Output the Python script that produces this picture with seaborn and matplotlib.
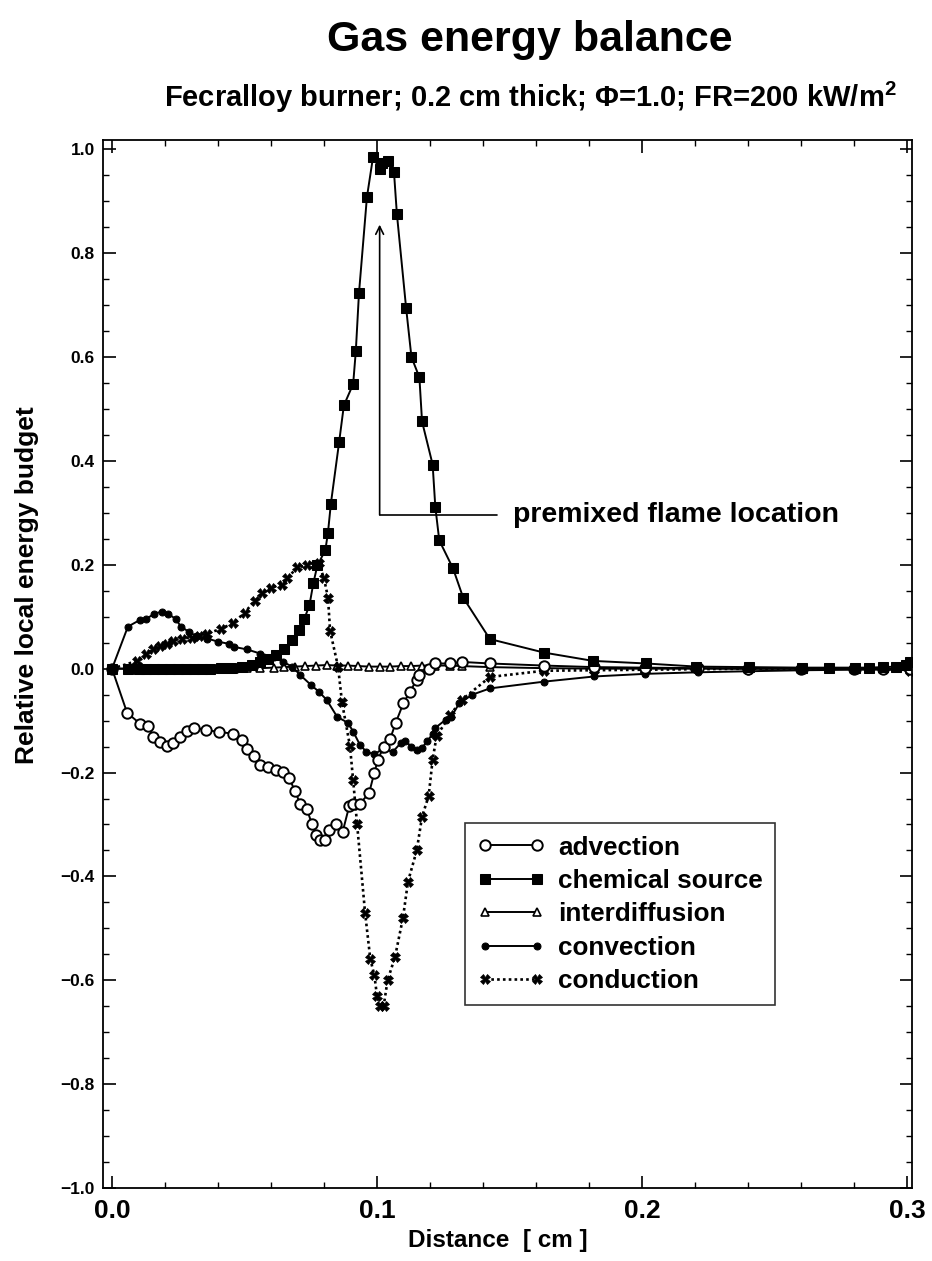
import numpy as np
import pandas as pd
import matplotlib
matplotlib.use("Agg")
import matplotlib.pyplot as plt
import seaborn as sns
from matplotlib.ticker import MultipleLocator

# ---------------- data ----------------
chem_x = [0.0, 0.006, 0.010, 0.013, 0.016, 0.019, 0.022, 0.025, 0.028, 0.031, 0.034, 0.037,
          0.041, 0.045, 0.049, 0.053, 0.056, 0.059, 0.062, 0.065, 0.068, 0.0705, 0.0725,
          0.0745, 0.076, 0.0775, 0.0805, 0.0815, 0.0826, 0.0857, 0.0875, 0.091, 0.092,
          0.0932, 0.0962, 0.0985, 0.101, 0.102, 0.104, 0.1064, 0.1075, 0.111, 0.113, 0.116,
          0.117, 0.121, 0.122, 0.1235, 0.1287, 0.1325, 0.1426, 0.163, 0.1815, 0.2015,
          0.2205, 0.2405, 0.2605, 0.2705, 0.2805, 0.2855, 0.291, 0.296, 0.2995, 0.301]
chem_y = [0.0, 0.0, 0.0, 0.0, 0.0, 0.0, 0.0, 0.0, 0.0, 0.0, 0.0, 0.0,
          0.001, 0.002, 0.004, 0.008, 0.012, 0.018, 0.026, 0.038, 0.055, 0.075, 0.095,
          0.122, 0.165, 0.199, 0.228, 0.262, 0.318, 0.436, 0.507, 0.548, 0.611,
          0.723, 0.908, 0.985, 0.962, 0.974, 0.978, 0.957, 0.876, 0.694, 0.600, 0.561,
          0.476, 0.393, 0.312, 0.247, 0.193, 0.137, 0.057, 0.031, 0.015, 0.010,
          0.004, 0.003, 0.002, 0.002, 0.002, 0.002, 0.003, 0.004, 0.008, 0.012]

adv_x = [0.0, 0.0057, 0.0106, 0.0136, 0.0155, 0.018, 0.0208, 0.023, 0.0257, 0.0283, 0.031,
         0.0355, 0.0404, 0.0457, 0.049, 0.051, 0.0536, 0.056, 0.059, 0.062, 0.0645, 0.0668,
         0.069, 0.071, 0.0735, 0.0755, 0.077, 0.0785, 0.0805, 0.082, 0.0845, 0.087, 0.0895,
         0.091, 0.0935, 0.097, 0.099, 0.1004, 0.1025, 0.105, 0.107, 0.110, 0.1125, 0.115,
         0.116, 0.1195, 0.122, 0.1275, 0.132, 0.1426, 0.163, 0.182, 0.201, 0.221, 0.24,
         0.26, 0.28, 0.291, 0.301]
adv_y = [0.0, -0.085, -0.106, -0.110, -0.131, -0.141, -0.149, -0.143, -0.131, -0.120, -0.114,
         -0.118, -0.122, -0.125, -0.137, -0.154, -0.168, -0.185, -0.190, -0.195, -0.199, -0.210,
         -0.235, -0.260, -0.270, -0.300, -0.320, -0.330, -0.330, -0.310, -0.300, -0.315, -0.265,
         -0.260, -0.260, -0.240, -0.200, -0.175, -0.150, -0.135, -0.105, -0.066, -0.044, -0.021,
         -0.012, 0.0, 0.010, 0.010, 0.013, 0.010, 0.006, 0.003, 0.002, 0.001, 0.0,
         0.0, 0.0, 0.0, 0.0]

idf_x = [0.0, 0.006, 0.011, 0.016, 0.021, 0.026, 0.031, 0.036, 0.041, 0.046, 0.051, 0.056,
         0.061, 0.065, 0.069, 0.073, 0.077, 0.081, 0.085, 0.089, 0.093, 0.097, 0.101, 0.105,
         0.109, 0.113, 0.117, 0.122, 0.1275, 0.132, 0.1426, 0.163, 0.182, 0.201, 0.221,
         0.24, 0.26, 0.28, 0.291, 0.301]
idf_y = [0.0, 0.0, 0.0, 0.0, 0.0, 0.0, 0.0, 0.0, 0.0, 0.0, 0.001, 0.001,
         0.002, 0.003, 0.004, 0.005, 0.006, 0.007, 0.006, 0.006, 0.005, 0.004, 0.004, 0.004,
         0.005, 0.005, 0.006, 0.006, 0.006, 0.005, 0.003, 0.001, 0.0, 0.0, 0.0,
         0.0, 0.0, 0.0, 0.0, 0.0]

conv_x = [0.0, 0.006, 0.0106, 0.013, 0.016, 0.019, 0.021, 0.024, 0.026, 0.029, 0.032, 0.036,
          0.040, 0.044, 0.046, 0.051, 0.056, 0.061, 0.0645, 0.068, 0.071, 0.075, 0.078,
          0.081, 0.085, 0.089, 0.091, 0.0936, 0.096, 0.099, 0.102, 0.106, 0.109, 0.1106,
          0.113, 0.115, 0.117, 0.119, 0.121, 0.122, 0.126, 0.128, 0.131, 0.136, 0.1426,
          0.163, 0.182, 0.201, 0.221, 0.240, 0.261, 0.281, 0.291, 0.301]
conv_y = [0.0, 0.081, 0.094, 0.096, 0.106, 0.110, 0.106, 0.096, 0.081, 0.071, 0.062, 0.058,
          0.052, 0.048, 0.042, 0.037, 0.029, 0.023, 0.013, 0.004, -0.012, -0.031, -0.044,
          -0.060, -0.093, -0.104, -0.121, -0.147, -0.160, -0.165, -0.155, -0.160, -0.143, -0.139,
          -0.150, -0.156, -0.152, -0.140, -0.125, -0.114, -0.098, -0.093, -0.067, -0.050, -0.038,
          -0.025, -0.015, -0.010, -0.007, -0.005, -0.003, -0.002, -0.002, -0.003]

cond_x = [0.0, 0.0095, 0.013, 0.0155, 0.018, 0.0208, 0.023, 0.0264, 0.030, 0.033, 0.036,
          0.041, 0.0457, 0.050, 0.054, 0.0566, 0.060, 0.064, 0.066, 0.070, 0.0736, 0.0766,
          0.078, 0.080, 0.0815, 0.0823, 0.0853, 0.0868, 0.0898, 0.091, 0.0925, 0.0955,
          0.0975, 0.099, 0.100, 0.101, 0.1025, 0.104, 0.1068, 0.1098, 0.1117, 0.115, 0.117,
          0.1195, 0.121, 0.1225, 0.1275, 0.132, 0.1426, 0.163, 0.182, 0.201, 0.221, 0.24,
          0.26, 0.28, 0.291, 0.301]
cond_y = [0.0, 0.015, 0.029, 0.037, 0.043, 0.048, 0.054, 0.058, 0.060, 0.063, 0.067,
          0.077, 0.087, 0.108, 0.131, 0.145, 0.156, 0.162, 0.174, 0.195, 0.199, 0.199,
          0.203, 0.174, 0.137, 0.073, 0.004, -0.065, -0.149, -0.215, -0.300, -0.470,
          -0.560, -0.590, -0.630, -0.650, -0.650, -0.600, -0.555, -0.480, -0.410, -0.350, -0.285,
          -0.245, -0.175, -0.130, -0.090, -0.060, -0.016, -0.004, -0.003, -0.002, -0.001, 0.0,
          0.0, 0.0, 0.0, -0.005]

series_names = ["advection", "chemical source", "interdiffusion", "convection", "conduction"]

title = "Gas energy balance"
subtitle = "Fecralloy burner; 0.2 cm thick; \u03A6=1.0; FR=200 kW/m$\\mathbf{^2}$"
xlabel = "Distance  [ cm ]"
ylabel = "Relative local energy budget"
annot_text = "premixed flame location"

# ---------------- style ----------------
sns.set_theme(style="ticks")
plt.rcParams["font.family"] = ["Liberation Sans", "DejaVu Sans"]
plt.rcParams["font.weight"] = "bold"
plt.rcParams["mathtext.fontset"] = "custom"
plt.rcParams["mathtext.rm"] = "Liberation Sans"
plt.rcParams["mathtext.bf"] = "Liberation Sans:bold"
for k in ["text.color", "axes.labelcolor", "xtick.color", "ytick.color", "axes.edgecolor"]:
    plt.rcParams[k] = "black"

fig = plt.figure(figsize=(9.32, 12.61), dpi=100)
ax = fig.add_axes([103/932, 1-1188/1261, (912-103)/932, (1188-140)/1261])

styles = {
    "advection": dict(marker="o", markersize=7.5, markerfacecolor="white", markeredgecolor="black",
                      markeredgewidth=1.4, linestyle="-", linewidth=1.4),
    "chemical source": dict(marker="s", markersize=7.8, markerfacecolor="black", markeredgecolor="black",
                            linestyle="-", linewidth=1.4),
    "interdiffusion": dict(marker="^", markersize=5.5, markerfacecolor="white", markeredgecolor="black",
                           markeredgewidth=1.2, linestyle="-", linewidth=1.4),
    "convection": dict(marker="o", markersize=5, markerfacecolor="black", markeredgecolor="black",
                       linestyle="-", linewidth=1.4),
    "conduction": dict(marker="X", markersize=7, markerfacecolor="black", markeredgecolor="black",
                       markeredgewidth=0.5, linestyle=(0, (1, 1.2)), linewidth=1.9),
}
data = {
    "advection": (adv_x, adv_y),
    "chemical source": (chem_x, chem_y),
    "interdiffusion": (idf_x, idf_y),
    "convection": (conv_x, conv_y),
    "conduction": (cond_x, cond_y),
}

for name in ["interdiffusion", "convection", "conduction", "advection", "chemical source"]:
    xs, ys = data[name]
    df = pd.DataFrame({"x": xs, "y": ys})
    sns.lineplot(data=df, x="x", y="y", ax=ax, color="black", sort=False, estimator=None,
                 label=name, **styles[name])

ax.xaxis.set_major_locator(MultipleLocator(0.1))
ax.xaxis.set_minor_locator(MultipleLocator(0.02))
ax.yaxis.set_major_locator(MultipleLocator(0.2))
ax.yaxis.set_minor_locator(MultipleLocator(0.05))
ax.tick_params(which="both", direction="in", top=True, right=True, color="black")
ax.tick_params(which="major", length=9, width=1.2)
ax.tick_params(which="minor", length=4.5, width=1.0)
ax.tick_params(axis="x", which="major", labelsize=19, pad=8)
ax.tick_params(axis="y", which="major", labelsize=12.5, pad=6)
ax.set_xlim(-0.0034, 0.3019)
ax.set_ylim(-1.0, 1.018)
xt = [0.0, 0.1, 0.2, 0.3]
yt = [-1.0, -0.8, -0.6, -0.4, -0.2, 0.0, 0.2, 0.4, 0.6, 0.8, 1.0]
ax.set_xticks(xt)
ax.set_xticklabels([f"{v:.1f}" for v in xt], fontweight="bold")
ax.set_yticks(yt)
ax.set_yticklabels([f"{v:.1f}".replace("-", "\u2212") for v in yt], fontweight="bold")
ax.set_xlim(-0.0034, 0.3019)
ax.set_ylim(-1.0, 1.018)
for sp in ax.spines.values():
    sp.set_color("black")
    sp.set_linewidth(1.3)
ax.set_xlabel("")
ax.set_ylabel("")

# annotation: arrow to flame location
ax.annotate("", xy=(0.101, 0.855), xytext=(0.101, 0.296),
            arrowprops=dict(arrowstyle="->", color="black", lw=1.2, mutation_scale=14,
                            shrinkA=0, shrinkB=0))
ax.plot([0.101, 0.1453], [0.296, 0.296], color="black", lw=1.2)
ax.text(0.1513, 0.296, annot_text, fontsize=20.5, fontweight="bold", va="center", ha="left")

# legend
order = ["advection", "chemical source", "interdiffusion", "convection", "conduction"]
hmap = dict(zip(*ax.get_legend_handles_labels()[::-1]))
leg = ax.legend([hmap[n] for n in order], order, loc="upper left",
                bbox_to_anchor=(0.4475, 0.348), borderaxespad=0, numpoints=2,
                handlelength=2.6, handletextpad=0.5, labelspacing=0.36,
                prop={"size": 18.8, "weight": "bold"},
                frameon=True, fancybox=False, edgecolor="black", borderpad=0.47)
leg.get_frame().set_linewidth(1.2)

fig.text(530/932, 1-40/1261, title, fontsize=31, fontweight="bold", ha="center", va="center")
fig.text(530/932, 1-97/1261, subtitle, fontsize=21, fontweight="bold", ha="center", va="center")
fig.text(27/932, 1-585/1261, ylabel, fontsize=19, fontweight="bold", rotation=90, ha="center", va="center")
fig.text(498/932, 1-1240/1261, xlabel, fontsize=17.5, fontweight="bold", ha="center", va="center")

fig.savefig("out.png", dpi=100)
